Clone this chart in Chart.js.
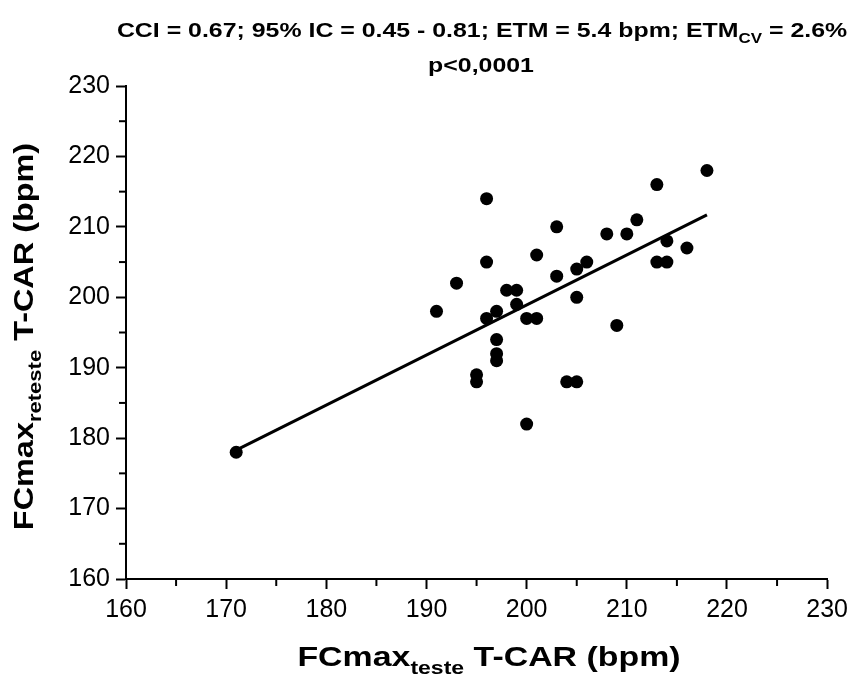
<!DOCTYPE html>
<html lang="pt">
<head>
  <meta charset="UTF-8">
  <title>FCmax teste vs reteste T-CAR</title>
  <script src="https://cdn.jsdelivr.net/npm/chart.js"></script>
  <style>
    html, body { margin: 0; padding: 0; background: #fff; }
    #wrap { width: 854px; height: 674px; position: relative; }
  </style>
</head>
<body>
  <div id="wrap"><canvas id="grafico"></canvas></div>
  <script>
    // dados
    const fcTeste   = [171, 191, 193, 195, 195, 196, 196, 196, 197, 197, 197, 197, 198, 199, 199, 200, 200, 201,
                       201, 203, 203, 204, 205, 205, 205, 206, 208, 209, 210, 211, 213, 213, 214, 214, 216, 218];
    const fcReteste = [178, 198, 202, 189, 188, 214, 205, 197, 198, 194, 192, 191, 201, 201, 199, 197, 182, 197,
                       206, 210, 203, 188, 204, 200, 188, 205, 209, 196, 209, 211, 216, 205, 208, 205, 207, 218];
    // reta de regressao (extremos)
    const retaX = [171, 218];
    const retaY = [178.3, 211.7];
    // eixos
    const eixoMin = 160, eixoMax = 230, passoMaior = 10, passoMenor = 5;

    const titulo1 = [['CCI = 0.67; 95% IC = 0.45 - 0.81; ETM = 5.4 bpm; ETM', false], ['CV', true], [' = 2.6%', false]];
    const titulo2 = [['p<0,0001', false]];
    const tituloX = [['FCmax', false], ['teste', true], [' T-CAR (bpm)', false]];
    const tituloY = [['FCmax', false], ['reteste', true], [' T-CAR (bpm)', false]];

    const FONTE = '"Liberation Sans", Arial, sans-serif';
    Chart.defaults.font.family = FONTE;
    Chart.defaults.color = '#000';

    // desenha texto com subscrito, centrado em x, esticado na horizontal por sx
    function textoRico(ctx, partes, x, y, tam, sx) {
      let larg = 0;
      partes.forEach(([t, sub]) => {
        ctx.font = 'bold ' + (sub ? tam * 0.68 : tam) + 'px ' + FONTE;
        larg += ctx.measureText(t).width;
      });
      ctx.save();
      ctx.translate(x, y);
      ctx.scale(sx, 1);
      let cx = -larg / 2;
      ctx.textAlign = 'left';
      ctx.textBaseline = 'alphabetic';
      partes.forEach(([t, sub]) => {
        ctx.font = 'bold ' + (sub ? tam * 0.68 : tam) + 'px ' + FONTE;
        ctx.fillText(t, cx, sub ? tam * 0.28 : 0);
        cx += ctx.measureText(t).width;
      });
      ctx.restore();
    }

    const extras = {
      id: 'extras',
      afterDraw(chart) {
        const ctx = chart.ctx;
        const { x, y } = chart.scales;
        const area = chart.chartArea;
        ctx.save();
        ctx.fillStyle = '#000';
        ctx.strokeStyle = '#000';
        ctx.lineWidth = 2;
        // tracos menores
        for (let v = eixoMin + passoMenor; v < eixoMax; v += passoMaior) {
          const px = x.getPixelForValue(v);
          ctx.beginPath(); ctx.moveTo(px, area.bottom); ctx.lineTo(px, area.bottom + 7); ctx.stroke();
          const py = y.getPixelForValue(v);
          ctx.beginPath(); ctx.moveTo(area.left, py); ctx.lineTo(area.left - 7, py); ctx.stroke();
        }
        // titulos
        textoRico(ctx, titulo1, 482, 37, 21, 1.185);
        textoRico(ctx, titulo2, 481, 72, 21, 1.185);
        textoRico(ctx, tituloX, 489, 666, 28, 1.21);
        ctx.translate(33, (area.top + area.bottom) / 2 + 4);
        ctx.rotate(-Math.PI / 2);
        textoRico(ctx, tituloY, 0, 0, 27, 1.2);
        ctx.restore();
      }
    };

    const eixo = (largura) => ({
      type: 'linear',
      min: eixoMin,
      max: eixoMax,
      ticks: { stepSize: passoMaior, padding: 6, font: { size: 25 }, color: '#000' },
      grid: { drawOnChartArea: false, drawTicks: true, tickLength: 10, tickWidth: 2, tickColor: '#000' },
      border: { display: true, color: '#000', width: 2 },
      afterFit: largura
    });

    new Chart(document.getElementById('grafico'), {
      type: 'scatter',
      data: {
        datasets: [{
          type: 'line',
          data: retaX.map((v, i) => ({ x: v, y: retaY[i] })),
          borderColor: '#000',
          borderWidth: 3,
          pointRadius: 0,
          fill: false
        }, {
          data: fcTeste.map((v, i) => ({ x: v, y: fcReteste[i] })),
          backgroundColor: '#000',
          borderWidth: 0,
          pointRadius: 6.5
        }]
      },
      options: {
        responsive: true,
        maintainAspectRatio: false,
        animation: false,
        layout: { padding: { top: 86, right: 22, left: 0, bottom: 0 } },
        plugins: { legend: { display: false }, tooltip: { enabled: false }, title: { display: false } },
        scales: {
          x: eixo(s => { s.height = 95; }),
          y: eixo(s => { s.width = 126; })
        }
      },
      plugins: [extras]
    });
  </script>
</body>
</html>
